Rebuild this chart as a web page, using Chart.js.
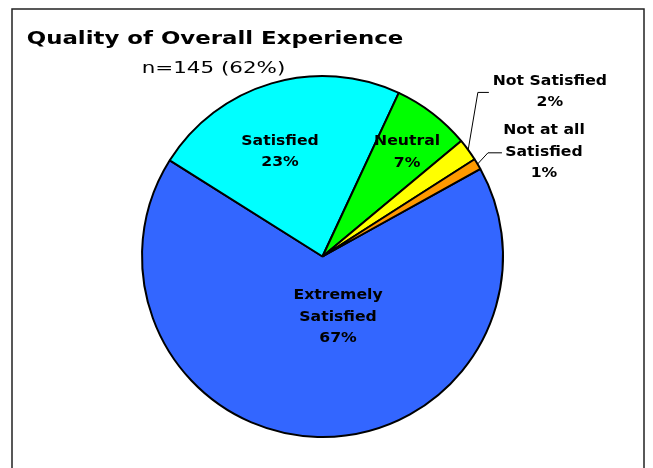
<!DOCTYPE html>
<html>
<head>
<meta charset="utf-8">
<script src="https://cdn.jsdelivr.net/npm/chart.js@4"></script>
<style>
  html, body { margin: 0; padding: 0; background: #fff; }
  #wrap { width: 653px; height: 468px; position: relative; }
</style>
</head>
<body>
<div id="wrap"><canvas id="pie"></canvas></div>
<script>
// ----- Data
const categories = ['Extremely Satisfied', 'Satisfied', 'Neutral', 'Not Satisfied', 'Not at all Satisfied'];
const labelLines = [['Extremely', 'Satisfied'], ['Satisfied'], ['Neutral'], ['Not Satisfied'], ['Not at all', 'Satisfied']];
const percents = [67, 23, 7, 2, 1];
const titleText = 'Quality of Overall Experience';
const subtitleText = 'n=145 (62%)';

// ----- Styling
const sliceColors = ['#3366FF', '#00FFFF', '#00FF00', '#FFFF00', '#FF9900'];
const FONT = '"DejaVu Sans", Verdana, sans-serif';

// label placement: angle offset from slice middle (deg), distance as share of radius
const labelPlace = [
    { da: -16, r: 0.346 },
    { da: -5.7, r: 0.625 },
    { da: 1.4, r: 0.745 },
    { da: 0.3, r: 1.555, leader: { x1: -72, x2: -61, dy: 0.5 } },
    { da: 5.5, r: 1.357, leader: { x1: -56, x2: -42, dy: 1 } }
];

// text in the original is drawn a bit wide, so stretch it horizontally
function drawLines(ctx, lines, cx, cy, lh, sx) {
    const top = cy - (lines.length - 1) * lh / 2;
    lines.forEach((t, k) => {
        ctx.save();
        ctx.translate(cx, top + k * lh);
        ctx.scale(sx, 1);
        ctx.fillText(t, 0, 0);
        ctx.restore();
    });
}

const decor = {
    id: 'decor',
    beforeDraw(chart) {
        const ctx = chart.ctx;
        ctx.save();
        ctx.strokeStyle = '#222';
        ctx.lineWidth = 1.5;
        ctx.strokeRect(12, 9, 632, 480);
        ctx.restore();
    },
    afterDatasetsDraw(chart) {
        const ctx = chart.ctx;
        ctx.save();
        ctx.fillStyle = '#000';
        ctx.textAlign = 'center';
        ctx.textBaseline = 'middle';

        ctx.font = 'bold 18px ' + FONT;
        drawLines(ctx, [titleText], 215, 39, 0, 1.27);
        ctx.font = '16px ' + FONT;
        drawLines(ctx, [subtitleText], 213.5, 69, 0, 1.34);

        const meta = chart.getDatasetMeta(0);
        ctx.font = 'bold 14.5px ' + FONT;
        meta.data.forEach((arc, i) => {
            const { x, y, startAngle, endAngle, outerRadius } =
                arc.getProps(['x', 'y', 'startAngle', 'endAngle', 'outerRadius'], true);
            const mid = (startAngle + endAngle) / 2;
            const p = labelPlace[i];
            const a = mid + p.da * Math.PI / 180;
            const lx = x + Math.cos(a) * outerRadius * p.r;
            const ly = y + Math.sin(a) * outerRadius * p.r;
            if (p.leader) {
                ctx.beginPath();
                ctx.strokeStyle = '#000';
                ctx.lineWidth = 1;
                ctx.moveTo(x + Math.cos(mid) * outerRadius, y + Math.sin(mid) * outerRadius);
                ctx.lineTo(lx + p.leader.x1, ly + p.leader.dy);
                ctx.lineTo(lx + p.leader.x2, ly + p.leader.dy);
                ctx.stroke();
            }
            drawLines(ctx, [...labelLines[i], percents[i] + '%'], lx, ly, 21.5, 1.08);
        });
        ctx.restore();
    }
};

new Chart(document.getElementById('pie'), {
    type: 'pie',
    data: {
        labels: categories,
        datasets: [{
            data: percents,
            backgroundColor: sliceColors,
            borderColor: '#000',
            borderWidth: 2
        }]
    },
    options: {
        responsive: true,
        maintainAspectRatio: false,
        animation: false,
        rotation: 61,
        layout: { padding: { top: 75, bottom: 30, left: 141, right: 149 } },
        plugins: { legend: { display: false }, tooltip: { enabled: false }, title: { display: false } }
    },
    plugins: [decor]
});
</script>
</body>
</html>
